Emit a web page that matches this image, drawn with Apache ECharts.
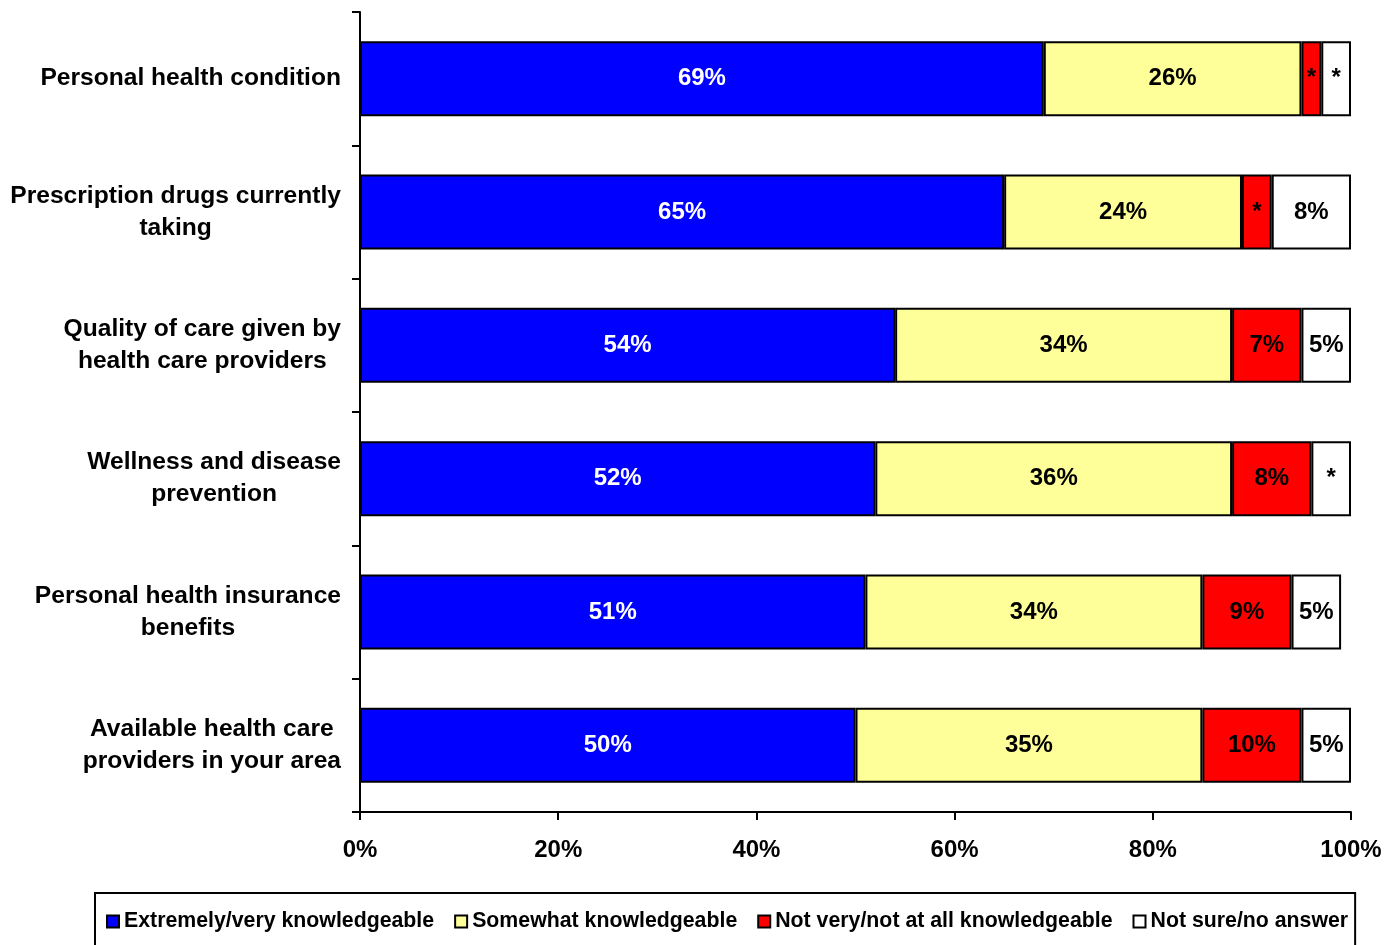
<!DOCTYPE html>
<html>
<head>
<meta charset="utf-8">
<script src="https://cdn.jsdelivr.net/npm/echarts@6/dist/echarts.min.js"></script>
<style>
html,body{margin:0;padding:0;background:#fff;}
#chart{width:1398px;height:945px;}
</style>
</head>
<body>
<div id="chart"></div>
<script>
const categories = [
  'Personal health condition',
  'Prescription drugs currently\ntaking',
  'Quality of care given by\nhealth care providers',
  'Wellness and disease\nprevention',
  'Personal health insurance\nbenefits',
  'Available health care\nproviders in your area'
];
const seriesNames = ['Extremely/very knowledgeable', 'Somewhat knowledgeable', 'Not very/not at all knowledgeable', 'Not sure/no answer'];
const extremely = [69, 65, 54, 52, 51, 50];
const somewhat = [26, 24, 34, 36, 34, 35];
const notVery = [2, 3, 7, 8, 9, 10];
const notSure = [3, 8, 5, 4, 5, 5];
const extremelyLabels = ['69%', '65%', '54%', '52%', '51%', '50%'];
const somewhatLabels = ['26%', '24%', '34%', '36%', '34%', '35%'];
const notVeryLabels = ['*', '*', '7%', '8%', '9%', '10%'];
const notSureLabels = ['*', '8%', '5%', '*', '5%', '5%'];
const xTicks = [0, 20, 40, 60, 80, 100];

const FONT = '"Liberation Sans", Arial, sans-serif';
const colors = ['#0000FF', '#FFFF99', '#FF0000', '#FFFFFF'];
const labelColors = ['#FFFFFF', '#000000', '#000000', '#000000'];
const values = [extremely, somewhat, notVery, notSure];
const labels = [extremelyLabels, somewhatLabels, notVeryLabels, notSureLabels];

const chart = echarts.init(document.getElementById('chart'), null, {renderer: 'canvas'});

const series = seriesNames.map((name, i) => ({
  name: name,
  type: 'bar',
  stack: 'total',
  barWidth: 75,
  data: values[i],
  itemStyle: {color: colors[i], borderColor: '#000', borderWidth: 2},
  emphasis: {disabled: true},
  label: {
    show: true,
    position: 'inside',
    color: labelColors[i],
    fontFamily: FONT,
    fontWeight: 'bold',
    fontSize: 24,
    formatter: p => labels[i][p.dataIndex]
  }
}));

chart.setOption({
  animation: false,
  backgroundColor: '#fff',
  grid: {left: 360, right: 47, top: 12, bottom: 133, containLabel: false},
  xAxis: {
    type: 'value',
    min: 0,
    max: 100,
    interval: 20,
    axisLine: {show: true, lineStyle: {color: '#000', width: 2}},
    axisTick: {show: true, length: 8, lineStyle: {color: '#000', width: 2}},
    splitLine: {show: false},
    axisLabel: {
      margin: 26,
      color: '#000',
      fontFamily: FONT,
      fontWeight: 'bold',
      fontSize: 24,
      formatter: v => xTicks.includes(v) ? v + '%' : ''
    }
  },
  yAxis: {
    type: 'category',
    inverse: true,
    data: categories,
    axisLine: {show: true, lineStyle: {color: '#000', width: 2}},
    axisTick: {show: true, length: 8, lineStyle: {color: '#000', width: 2}},
    axisLabel: {
      margin: 19,
      align: 'right',
      formatter: v => v.split('\n').map(s => '{c|' + s + '}').join('\n'),
      rich: {
        c: {align: 'center', color: '#000', fontFamily: FONT, fontWeight: 'bold', fontSize: 24.6, lineHeight: 32}
      }
    }
  },
  legend: {
    data: seriesNames,
    left: 95,
    top: 893,
    padding: [18, 7, 40, 11],
    borderColor: '#000',
    borderWidth: 2,
    itemWidth: 12,
    itemHeight: 12,
    itemGap: 20,
    icon: 'rect',
    selectedMode: false,
    itemStyle: {borderColor: '#000', borderWidth: 2},
    textStyle: {color: '#000', fontFamily: FONT, fontWeight: 'bold', fontSize: 21.3}
  },
  series: series
});
</script>
</body>
</html>
